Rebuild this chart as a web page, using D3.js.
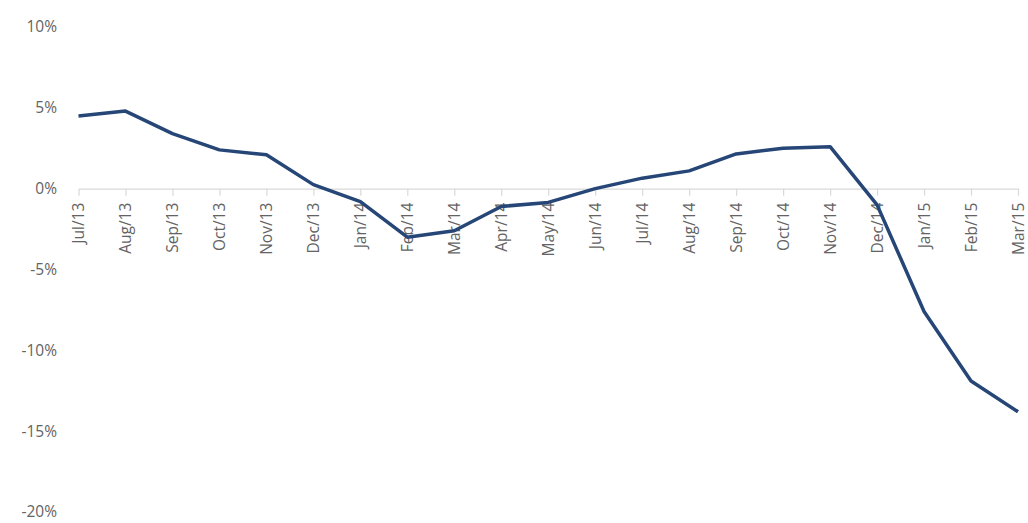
<!DOCTYPE html>
<html>
<head>
<meta charset="utf-8">
<script src="https://cdn.jsdelivr.net/npm/d3@7"></script>
<style>
  body { margin: 0; background: #fff; }
  text { font-family: "Open Sans", "Noto Sans", sans-serif; fill: #636363; }
</style>
</head>
<body>
<svg id="chart" width="1028" height="523"></svg>
<script>
// month labels along the x axis
var months = ['Jul/13','Aug/13','Sep/13','Oct/13','Nov/13','Dec/13','Jan/14','Feb/14','Mar/14','Apr/14',
  'May/14','Jun/14','Jul/14','Aug/14','Sep/14','Oct/14','Nov/14','Dec/14','Jan/15','Feb/15','Mar/15'];
// growth values in percent
var values = [4.5, 4.8, 3.4, 2.4, 2.1, 0.25, -0.8, -3.0, -2.6, -1.1,
  -0.85, 0.0, 0.65, 1.1, 2.15, 2.5, 2.6, -1.0, -7.6, -11.9, -13.8];
var yTicks = [10, 5, 0, -5, -10, -15, -20];

var svg = d3.select("#chart");

var x = d3.scalePoint()
  .domain(months)
  .range([78.5, 1018]);

var y = d3.scaleLinear()
  .domain([-20, 10])
  .range([512, 27]);

// y labels, no axis line
svg.append("g")
  .selectAll("text")
  .data(yTicks).enter().append("text")
  .attr("x", 57)
  .attr("y", function (d) { return y(d); })
  .attr("dy", "0.35em")
  .attr("text-anchor", "end")
  .style("font-size", "15.5px")
  .text(function (d) { return d + "%"; });

// x axis at zero
var xAxis = svg.append("g")
  .attr("transform", "translate(0," + y(0) + ")")
  .call(d3.axisBottom(x).tickSize(7).tickSizeOuter(0).tickPadding(8));

xAxis.select(".domain").attr("stroke", "#d9d9d9").attr("stroke-width", 1.2);
xAxis.selectAll(".tick line").attr("stroke", "#d9d9d9").attr("stroke-width", 1.2);
xAxis.selectAll(".tick text")
  .attr("transform", "rotate(-90)")
  .attr("text-anchor", "end")
  .attr("x", -14)
  .attr("y", 0)
  .attr("dy", "0.35em")
  .style("font-size", "15.5px")
  .style("font-family", "'Open Sans', 'Noto Sans', sans-serif")
  .attr("fill", "#636363");

var line = d3.line()
  .x(function (d, i) { return x(months[i]); })
  .y(function (d) { return y(d); });

svg.append("path")
  .datum(values)
  .attr("fill", "none")
  .attr("stroke", "#254676")
  .attr("stroke-width", 3.5)
  .attr("stroke-linejoin", "round")
  .attr("d", line);
</script>
</body>
</html>
